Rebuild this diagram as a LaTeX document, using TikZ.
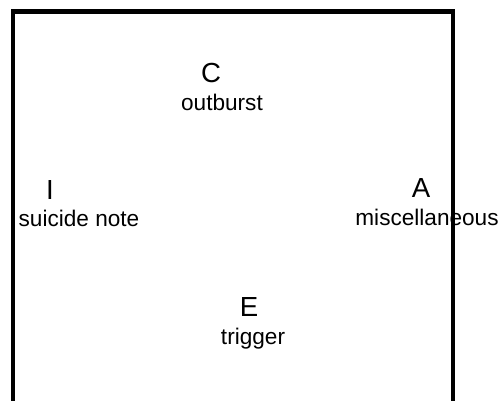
\documentclass[tikz,border=0pt]{standalone}
\usepackage{fontspec}
\setmainfont{Liberation Sans}
\begin{document}
\begin{tikzpicture}[x=0.5pt, y=-0.5pt,
        lettertxt/.style={anchor=base, inner sep=0pt, font=\fontsize{13.8}{16}\selectfont},
        wordtxt/.style={anchor=base, inner sep=0pt, font=\fontsize{11.3}{13}\selectfont}]
        \clip (0,0) rectangle (501,400);
        \draw[line width=2.3pt] (13,420) -- (13,11.5) -- (453,11.5) -- (453,420);
        \node[lettertxt] (c) at (211,83) {C};
        \node[wordtxt] (outburst) at (222,111) {outburst};
        \node[lettertxt] (i) at (50,199) {I};
        \node[wordtxt] (suicide) at (79,227) {suicide note};
        \node[lettertxt] (a) at (421,198) {A};
        \node[wordtxt] (misc) at (427,225) {miscellaneous};
        \node[lettertxt] (e) at (249,316) {E};
        \node[wordtxt] (trigger) at (253,344) {trigger};
    \end{tikzpicture}
\end{document}
